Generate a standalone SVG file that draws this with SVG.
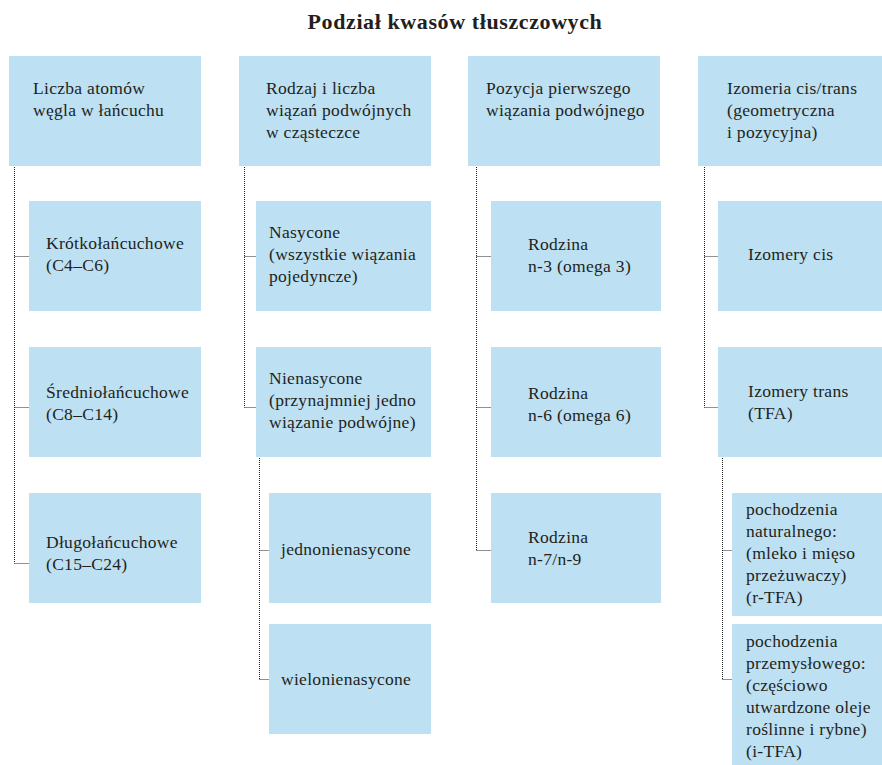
<svg xmlns="http://www.w3.org/2000/svg" width="882" height="765" viewBox="0 0 882 765">
<style>
.box{fill:#bde0f3}
text{font-family:"Liberation Serif","DejaVu Serif",serif;font-size:17.5px;letter-spacing:0.3px;fill:#231f20}
.title{font-size:22px;font-weight:bold;letter-spacing:0.6px}
.con{fill:none;stroke:#222;stroke-width:1;stroke-dasharray:1 1}
</style>
<rect width="882" height="765" fill="#fff"/>
<text class="title" x="455" y="29" text-anchor="middle">Podział kwasów tłuszczowych</text>
<g id="connectors">
<path class="con" d="M14.5,167 V563.5 M14.5,256.5 H29 M14.5,407.5 H29 M14.5,563.5 H29"/>
<path class="con" d="M244.5,167 V407.5 M244.5,256.5 H256 M244.5,407.5 H256"/>
<path class="con" d="M259.5,458 V679.5 M259.5,550.5 H269 M259.5,679.5 H269"/>
<path class="con" d="M476.5,167 V550.5 M476.5,256.5 H491 M476.5,407.5 H491 M476.5,550.5 H491"/>
<path class="con" d="M704.5,167 V407.5 M704.5,256.5 H718 M704.5,407.5 H718"/>
<path class="con" d="M722.5,458 V679.5 M722.5,550.5 H732 M722.5,679.5 H732"/>
</g>
<g id="n1"><rect class="box" x="9" y="56" width="192" height="110"/><text x="33" y="94">Liczba atomów</text><text x="33" y="116">węgla w łańcuchu</text></g>
<g id="n1a"><rect class="box" x="29" y="201" width="172" height="110"/><text x="46" y="249">Krótkołańcuchowe</text><text x="46" y="271">(C4–C6)</text></g>
<g id="n1b"><rect class="box" x="29" y="347" width="172" height="110"/><text x="46" y="398">Średniołańcuchowe</text><text x="46" y="420">(C8–C14)</text></g>
<g id="n1c"><rect class="box" x="29" y="493" width="172" height="110"/><text x="46" y="548">Długołańcuchowe</text><text x="46" y="570">(C15–C24)</text></g>
<g id="n2"><rect class="box" x="239" y="56" width="192" height="110"/><text x="266" y="94">Rodzaj i liczba</text><text x="266" y="116">wiązań podwójnych</text><text x="266" y="138">w cząsteczce</text></g>
<g id="n2a"><rect class="box" x="256" y="201" width="175" height="110"/><text x="269" y="238">Nasycone</text><text x="269" y="260">(wszystkie wiązania</text><text x="269" y="282">pojedyncze)</text></g>
<g id="n2b"><rect class="box" x="256" y="347" width="175" height="110"/><text x="269" y="384">Nienasycone</text><text x="269" y="406">(przynajmniej jedno</text><text x="269" y="428">wiązanie podwójne)</text></g>
<g id="n2b1"><rect class="box" x="269" y="493" width="162" height="110"/><text x="281" y="555">jednonienasycone</text></g>
<g id="n2b2"><rect class="box" x="269" y="624" width="162" height="110"/><text x="281" y="685">wielonienasycone</text></g>
<g id="n3"><rect class="box" x="468" y="56" width="192" height="110"/><text x="486" y="94">Pozycja pierwszego</text><text x="486" y="116">wiązania podwójnego</text></g>
<g id="n3a"><rect class="box" x="491" y="201" width="170" height="110"/><text x="528" y="250">Rodzina</text><text x="528" y="272">n-3 (omega 3)</text></g>
<g id="n3b"><rect class="box" x="491" y="347" width="170" height="110"/><text x="528" y="399">Rodzina</text><text x="528" y="421">n-6 (omega 6)</text></g>
<g id="n3c"><rect class="box" x="491" y="493" width="170" height="110"/><text x="528" y="543">Rodzina</text><text x="528" y="565">n-7/n-9</text></g>
<g id="n4"><rect class="box" x="698" y="56" width="184" height="110"/><text x="727" y="94">Izomeria cis/trans</text><text x="727" y="116">(geometryczna</text><text x="727" y="138">i pozycyjna)</text></g>
<g id="n4a"><rect class="box" x="718" y="201" width="164" height="110"/><text x="748" y="260">Izomery cis</text></g>
<g id="n4b"><rect class="box" x="718" y="347" width="164" height="110"/><text x="748" y="397">Izomery trans</text><text x="748" y="419">(TFA)</text></g>
<g id="n4b1"><rect class="box" x="732" y="493" width="150" height="123"/><text x="746" y="515">pochodzenia</text><text x="746" y="537">naturalnego:</text><text x="746" y="559">(mleko i mięso</text><text x="746" y="581">przeżuwaczy)</text><text x="746" y="603">(r-TFA)</text></g>
<g id="n4b2"><rect class="box" x="732" y="624" width="150" height="141"/><text x="746" y="647">pochodzenia</text><text x="746" y="669">przemysłowego:</text><text x="746" y="691">(częściowo</text><text x="746" y="713">utwardzone oleje</text><text x="746" y="735">roślinne i rybne)</text><text x="746" y="757">(i-TFA)</text></g>
</svg>
